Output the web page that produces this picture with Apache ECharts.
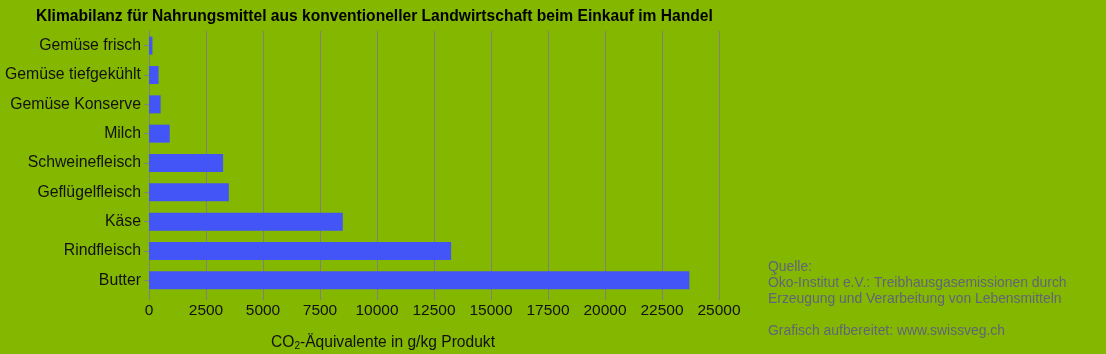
<!DOCTYPE html>
<html>
<head>
<meta charset="utf-8">
<script src="https://cdn.jsdelivr.net/npm/echarts@6/dist/echarts.min.js"></script>
<style>
  html, body { margin: 0; padding: 0; background: #84b800; }
  #chart { width: 1106px; height: 354px; }
</style>
</head>
<body>
<div id="chart"></div>
<script>
  // Kategorien von oben nach unten
  const categories = ['Gemüse frisch', 'Gemüse tiefgekühlt', 'Gemüse Konserve', 'Milch',
    'Schweinefleisch', 'Geflügelfleisch', 'Käse', 'Rindfleisch', 'Butter']
  // g CO2-Äquivalente pro kg Produkt
  const values = [150, 420, 510, 910, 3250, 3500, 8500, 13250, 23700]
  const sourceLines = ['Quelle:', 'Öko-Institut e.V.: Treibhausgasemissionen durch',
    'Erzeugung und Verarbeitung von Lebensmitteln', '', 'Grafisch aufbereitet: www.swissveg.ch']

  const chart = echarts.init(document.getElementById('chart'))
  const font = '"Liberation Sans", Arial, sans-serif'

  chart.setOption({
    backgroundColor: '#84b800',
    textStyle: { fontFamily: font },
    title: {
      text: 'Klimabilanz für Nahrungsmittel aus konventioneller Landwirtschaft beim Einkauf im Handel',
      left: 31,
      top: 4,
      textStyle: { fontSize: 15.6, fontWeight: 'bold', color: '#000', fontFamily: font }
    },
    grid: { left: 149, right: 387, top: 31, bottom: 59, containLabel: false, outerBoundsMode: 'none' },
    xAxis: {
      type: 'value',
      min: 0,
      max: 25000,
      interval: 2500,
      name: 'CO{sub|2}-Äquivalente in g/kg Produkt',
      nameLocation: 'middle',
      nameGap: 40,
      nameTextStyle: {
        fontSize: 15.6, color: '#111', fontFamily: font,
        padding: [0, 102, 0, 0],
        rich: {
          sub: { fontSize: 10, color: '#111', fontFamily: font, verticalAlign: 'bottom', padding: [6, 0, 0, 0] }
        }
      },
      axisLine: { show: false },
      axisTick: { show: true, length: 5, lineStyle: { color: '#808080' } },
      axisLabel: { fontSize: 15.5, color: '#111', margin: 8, fontFamily: font, formatter: v => String(v) },
      splitLine: { show: true, lineStyle: { color: '#808080', width: 1 } }
    },
    yAxis: {
      type: 'category',
      inverse: true,
      data: categories,
      axisLine: { show: true, lineStyle: { color: '#808080' } },
      axisTick: { show: true, length: 5, alignWithLabel: true, lineStyle: { color: '#808080' } },
      axisLabel: { fontSize: 15.8, color: '#111', margin: 8, fontFamily: font }
    },
    series: [{
      type: 'bar',
      data: values,
      barWidth: 18,
      itemStyle: { color: '#4455f8' },
      silent: true
    }],
    graphic: [{
      type: 'text',
      left: 768,
      top: 259,
      style: {
        text: sourceLines.join('\n'),
        fill: '#626478',
        font: '13.9px ' + font,
        lineHeight: 16
      }
    }]
  })
</script>
</body>
</html>
